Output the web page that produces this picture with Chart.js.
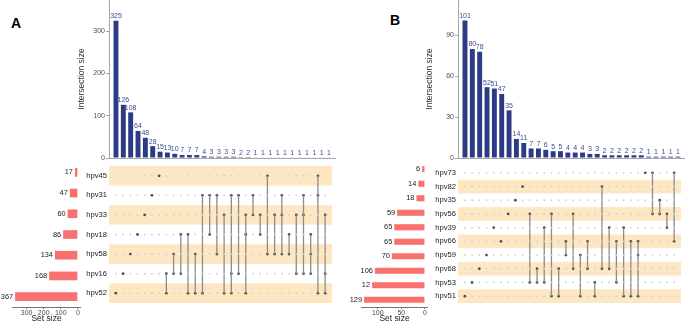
<!DOCTYPE html>
<html>
<head>
<meta charset="utf-8">
<script src="https://cdn.jsdelivr.net/npm/chart.js@4.4.1/dist/chart.umd.min.js"></script>
<style>
  body { margin: 0; width: 685px; height: 324px; position: relative; background: #fff; overflow: hidden;
         font-family: "Liberation Sans", Arial, sans-serif; }
  canvas { position: absolute; }
  .panel { position: absolute; font-weight: bold; font-size: 14px; line-height: 14px; color: #000; }
</style>
</head>
<body>
<div class="panel" style="left:11px;top:16px">A</div>
<div class="panel" style="left:390px;top:13px">B</div>
<script>
// panel A
const setsA = ['hpv45', 'hpv31', 'hpv33', 'hpv18', 'hpv58', 'hpv16', 'hpv52'];
const setSizesA = [17, 47, 60, 86, 134, 168, 367];
const setLabelsA = ['17', '47', '60', '86', '134', '168', '367'];
const setTicksA = [0, 100, 200, 300];
const interTicksA = [0, 100, 200, 300];
const interA = [325, 126, 108, 64, 48, 28, 15, 13, 10, 7, 7, 7, 4, 3, 3, 3, 3, 2, 2, 1, 1, 1, 1, 1, 1, 1, 1, 1, 1, 1];
const membersA = [
  ['hpv52'], ['hpv16'], ['hpv58'], ['hpv18'], ['hpv33'], ['hpv31'], ['hpv45'],
  ['hpv16', 'hpv52'], ['hpv58', 'hpv16'], ['hpv18', 'hpv16'], ['hpv18', 'hpv52'], ['hpv58', 'hpv52'],
  ['hpv31', 'hpv52'], ['hpv31', 'hpv18'], ['hpv31', 'hpv58'], ['hpv33', 'hpv52'], ['hpv31', 'hpv16', 'hpv52'],
  ['hpv31', 'hpv16'], ['hpv33', 'hpv18', 'hpv52'], ['hpv31', 'hpv33'], ['hpv33', 'hpv18'], ['hpv45', 'hpv58'],
  ['hpv33', 'hpv58'], ['hpv31', 'hpv33', 'hpv58'], ['hpv18', 'hpv58'], ['hpv33', 'hpv16'], ['hpv31', 'hpv33', 'hpv16'],
  ['hpv18', 'hpv58', 'hpv16'], ['hpv45', 'hpv31', 'hpv52'], ['hpv33', 'hpv16', 'hpv52']
];

// panel B
const setsB = ['hpv73', 'hpv82', 'hpv35', 'hpv56', 'hpv39', 'hpv66', 'hpv59', 'hpv68', 'hpv53', 'hpv51'];
const setSizesB = [6, 14, 18, 59, 65, 65, 70, 106, 112, 129];
const setLabelsB = ['6', '14', '18', '59', '65', '65', '70', '106', '12', '129'];
const setTicksB = [0, 50, 100];
const interTicksB = [0, 30, 60, 90];
const interB = [101, 80, 78, 52, 51, 47, 35, 14, 11, 7, 7, 6, 5, 5, 4, 4, 4, 3, 3, 2, 2, 2, 2, 2, 2, 1, 1, 1, 1, 1];
const membersB = [
  ['hpv51'], ['hpv53'], ['hpv68'], ['hpv59'], ['hpv39'], ['hpv66'], ['hpv56'], ['hpv35'], ['hpv82'],
  ['hpv56', 'hpv53'], ['hpv68', 'hpv53'], ['hpv39', 'hpv53'], ['hpv56', 'hpv51'], ['hpv68', 'hpv51'],
  ['hpv66', 'hpv59'], ['hpv56', 'hpv68'], ['hpv59', 'hpv51'], ['hpv66', 'hpv68'], ['hpv53', 'hpv51'],
  ['hpv82', 'hpv68'], ['hpv39', 'hpv68'], ['hpv66', 'hpv53'], ['hpv39', 'hpv51'], ['hpv66', 'hpv51'],
  ['hpv66', 'hpv59', 'hpv51'], ['hpv73'], ['hpv73', 'hpv56'], ['hpv35', 'hpv56'], ['hpv56', 'hpv39'], ['hpv73', 'hpv66']
];

const FONT = '"Liberation Sans", Arial, sans-serif';
const NAVY = '#2d3a86';
const NAVY_TXT = '#3d4a94';
const SALMON = '#f8716f';
const BAND = '#fde7c3';
const AXIS = '#a6a6a6';

Chart.defaults.font.family = FONT;
Chart.defaults.animation = false;
Chart.defaults.responsive = false;
Chart.defaults.devicePixelRatio = 1;
Chart.defaults.plugins.legend.display = false;
Chart.defaults.plugins.tooltip.enabled = false;

function mk(left, top, w, h) {
  const c = document.createElement('canvas');
  c.width = w; c.height = h;
  c.style.left = left + 'px'; c.style.top = top + 'px';
  c.style.width = w + 'px'; c.style.height = h + 'px';
  document.body.appendChild(c);
  return c;
}

const barLabels = {
  id: 'barLabels',
  afterDatasetsDraw(chart) {
    const ctx = chart.ctx;
    const vals = chart.data.datasets[0].data;
    ctx.save();
    ctx.font = '7px ' + FONT;
    ctx.fillStyle = NAVY_TXT;
    ctx.textAlign = 'center';
    ctx.textBaseline = 'bottom';
    chart.getDatasetMeta(0).data.forEach((b, i) => ctx.fillText(String(vals[i].y), b.x, b.y - 1));
    ctx.restore();
  }
};

const sizeLabels = {
  id: 'sizeLabels',
  afterDatasetsDraw(chart) {
    const ctx = chart.ctx;
    const txt = chart.data.datasets[0].valueLabels;
    ctx.save();
    ctx.font = '7.4px ' + FONT;
    ctx.fillStyle = '#1a1a1a';
    ctx.textAlign = 'right';
    ctx.textBaseline = 'middle';
    chart.getDatasetMeta(0).data.forEach((b, i) => ctx.fillText(txt[i], b.x - 2, b.y));
    ctx.restore();
  }
};

const bands = {
  id: 'bands',
  beforeDatasetsDraw(chart) {
    const { ctx, chartArea: a, scales: { y } } = chart;
    const n = y.getLabels().length;
    const h = a.height / n;
    ctx.save();
    ctx.fillStyle = BAND;
    for (let i = 0; i < n; i++) {
      if ((n - 1 - i) % 2 === 0) {
        const c = y.getPixelForValue(i);
        ctx.fillRect(a.left, c - h / 2, a.width, h);
      }
    }
    ctx.restore();
  }
};

function noPad(s) { s.paddingTop = 0; s.paddingBottom = 0; s.paddingLeft = 0; s.paddingRight = 0; }
const fixTicks = vals => s => { s.ticks = vals.map(v => ({ value: v })); };

function interChart(canvas, values, max, tickVals, axisW) {
  new Chart(canvas, {
    type: 'bar',
    data: {
      datasets: [{
        data: values.map((v, i) => ({ x: i, y: v })),
        backgroundColor: NAVY,
        barPercentage: 0.67,
        categoryPercentage: 1
      }]
    },
    options: {
      layout: { padding: 0 },
      scales: {
        x: {
          type: 'linear', offset: false, min: -0.95, max: values.length - 0.05,
          grid: { display: false }, ticks: { display: false },
          border: { color: AXIS },
          afterFit: s => { s.height = 2; noPad(s); }
        },
        y: {
          min: 0, max,
          afterBuildTicks: fixTicks(tickVals),
          ticks: { font: { size: 7 }, color: '#4d4d4d', padding: 1, autoSkip: false },
          grid: { drawOnChartArea: false, tickLength: 3, color: AXIS },
          border: { color: AXIS },
          title: { display: true, text: 'Intersection size', font: { size: 8.5 }, color: '#333', padding: 0 },
          afterFit: s => { s.width = axisW; noPad(s); }
        }
      }
    },
    plugins: [barLabels]
  });
}

function matrixChart(canvas, sets, members, axisW) {
  const off = [], on = [], lines = [];
  members.forEach((m, i) => {
    sets.forEach(s => { if (!m.includes(s)) off.push({ x: i, y: s }); });
    m.forEach(s => on.push({ x: i, y: s }));
    if (m.length > 1) {
      const idx = m.map(s => sets.indexOf(s));
      lines.push({
        type: 'line',
        data: [{ x: i, y: sets[Math.min(...idx)] }, { x: i, y: sets[Math.max(...idx)] }],
        borderColor: '#8c8c8c', borderWidth: 1.3, pointRadius: 0
      });
    }
  });
  new Chart(canvas, {
    type: 'scatter',
    data: {
      datasets: [
        { data: off, pointRadius: 0.9, backgroundColor: '#cfcfcf', borderWidth: 0 },
        ...lines,
        { data: on, pointRadius: 1.4, backgroundColor: '#4f4f4f', borderWidth: 0 }
      ]
    },
    options: {
      layout: { padding: 0 },
      scales: {
        x: { type: 'linear', min: -0.95, max: members.length - 0.05, display: false },
        y: {
          type: 'category', labels: sets, offset: true,
          grid: { display: false, drawTicks: false }, border: { display: false },
          ticks: { font: { size: 7.6 }, color: '#1a1a1a', padding: 2, autoSkip: false },
          afterFit: s => { s.width = axisW; noPad(s); }
        }
      }
    },
    plugins: [bands]
  });
}

function setChart(canvas, sets, sizes, labels, min, max, tickVals, padLeft, axisH) {
  new Chart(canvas, {
    type: 'bar',
    data: {
      labels: sets,
      datasets: [{ data: sizes, valueLabels: labels, backgroundColor: SALMON, barPercentage: 0.42, categoryPercentage: 1 }]
    },
    options: {
      indexAxis: 'y',
      layout: { padding: { left: padLeft, right: 0, top: 0, bottom: 0 } },
      scales: {
        x: {
          reverse: true, min, max,
          afterBuildTicks: fixTicks(tickVals),
          ticks: { font: { size: 7 }, color: '#4d4d4d', padding: 0, maxRotation: 0, autoSkip: false },
          grid: { drawOnChartArea: false, tickLength: 2, color: '#777' },
          border: { color: '#777' },
          title: { display: true, text: 'Set size', font: { size: 8.5 }, color: '#1a1a1a', padding: 0 },
          afterFit: s => { s.height = axisH; noPad(s); }
        },
        y: { display: false }
      }
    },
    plugins: [sizeLabels]
  });
}

// panel A
interChart(mk(77, 0, 259, 160), interA, 374, interTicksA, 32);
matrixChart(mk(84, 162, 252, 145), setsA, membersA, 25);
setChart(mk(0, 162, 81, 162), setsA, setSizesA, setLabelsA, -18.35, 385.35, setTicksA, 12, 17);

// panel B
interChart(mk(425, 0, 260, 160), interB, 116, interTicksB, 33);
matrixChart(mk(433, 162, 252, 145), setsB, membersB, 25);
setChart(mk(340, 162, 88, 162), setsB, setSizesB, setLabelsB, -6.45, 135.45, setTicksB, 21, 17);
</script>
</body>
</html>
